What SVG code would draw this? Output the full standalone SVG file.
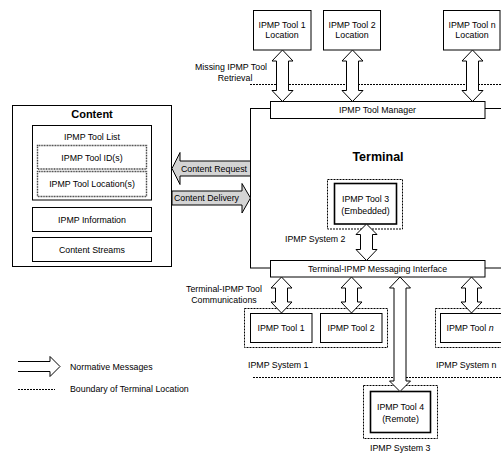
<svg xmlns="http://www.w3.org/2000/svg" width="501" height="453" viewBox="0 0 501 453">
<style>
text{font-family:"Liberation Sans",Arial,sans-serif;font-size:8.8px;fill:#000}
.c{text-anchor:middle}
.b{font-weight:bold}
.box{fill:#fff;stroke:#000;stroke-width:1}
.thick{fill:#fff;stroke:#000;stroke-width:1.6}
.dbox{fill:none;stroke:#000;stroke-width:1;stroke-dasharray:2 1}
.dot{fill:#fff;stroke:#444;stroke-width:1.4;stroke-dasharray:1 0.6}
.dl{fill:none;stroke:#000;stroke-width:1;stroke-dasharray:2 1}
.arr{fill:#fff;stroke:#000;stroke-width:1}
.garr{fill:#d4d4d4;stroke:#000;stroke-width:1}
</style>
<rect width="501" height="453" fill="#fff"/>
<line class="dl" x1="250" y1="84.5" x2="501" y2="84.5"/>
<line class="dl" x1="253" y1="377.5" x2="501" y2="377.5"/>
<g id="terminal">
<rect x="250.5" y="108.5" width="300" height="159.5" fill="none" stroke="#000"/>
<text class="c b" x="378" y="161" style="font-size:12.5px">Terminal</text>
</g>
<g id="content">
<rect class="box" x="12.5" y="105.5" width="159" height="161"/>
<text class="c b" x="92" y="118" style="font-size:11px">Content</text>
<rect class="box" x="32.5" y="125.5" width="119" height="74.5"/>
<text class="c" x="92" y="140">IPMP Tool List</text>
<rect class="dot" x="37.5" y="145.5" width="109" height="23.5"/>
<text class="c" x="92" y="160.5">IPMP Tool ID(s)</text>
<rect class="dot" x="37.5" y="171.5" width="109" height="25"/>
<text class="c" x="92" y="187">IPMP Tool Location(s)</text>
<rect class="box" x="32.5" y="207.5" width="119" height="24"/>
<text class="c" x="92" y="222.5">IPMP Information</text>
<rect class="box" x="32.5" y="237.5" width="119" height="24"/>
<text class="c" x="92" y="253">Content Streams</text>
</g>
<g id="loc1">
<rect class="box" x="253.5" y="10.5" width="57.5" height="39.5"/>
<text class="c" x="282" y="28">IPMP Tool 1</text>
<text class="c" x="282" y="38">Location</text>
</g>
<g id="loc2">
<rect class="box" x="323.5" y="10.5" width="57" height="39.5"/>
<text class="c" x="352" y="28">IPMP Tool 2</text>
<text class="c" x="352" y="38">Location</text>
</g>
<g id="locn">
<rect class="box" x="443.5" y="10.5" width="56.5" height="39.5"/>
<text class="c" x="472" y="28">IPMP Tool n</text>
<text class="c" x="472" y="38">Location</text>
</g>
<g id="manager">
<rect class="box" x="270.5" y="101.5" width="214.5" height="17"/>
<text class="c" x="377.5" y="113">IPMP Tool Manager</text>
</g>
<g id="tool3">
<rect class="dbox" x="327.5" y="179.5" width="75" height="49.5"/>
<rect class="thick" x="334.5" y="183.5" width="62" height="40.5"/>
<text class="c" x="365.5" y="201.5">IPMP Tool 3</text>
<text class="c" x="365.5" y="213.5">(Embedded)</text>
</g>
<g id="msgif">
<rect class="box" x="270.5" y="260.5" width="214.5" height="16.5"/>
<text class="c" x="377.5" y="271.5">Terminal-IPMP Messaging Interface</text>
</g>
<g id="system1">
<rect class="dbox" x="244.5" y="308.5" width="143" height="39"/>
<text x="248" y="368">IPMP System 1</text>
</g>
<g id="tool1">
<rect class="box" x="250.5" y="313.5" width="61.5" height="29"/>
<text class="c" x="281" y="331">IPMP Tool 1</text>
</g>
<g id="tool2">
<rect class="box" x="320.5" y="313.5" width="61.5" height="29"/>
<text class="c" x="351" y="331">IPMP Tool 2</text>
</g>
<g id="systemn">
<rect class="dbox" x="435.5" y="308.5" width="80" height="39"/>
<text x="436" y="368">IPMP System n</text>
</g>
<g id="tooln">
<rect class="box" x="440.5" y="313.5" width="70" height="29"/>
<text class="c" x="470" y="331">IPMP Tool <tspan font-style="italic">n</tspan></text>
</g>
<g id="tool4">
<rect class="dbox" x="363.5" y="385.5" width="74" height="53"/>
<rect class="thick" x="370.5" y="391.5" width="60" height="41"/>
<text class="c" x="400.5" y="410">IPMP Tool 4</text>
<text class="c" x="400.5" y="421.5">(Remote)</text>
<text x="370" y="451">IPMP System 3</text>
</g>
<g id="connectors">
<path class="arr" d="M282.5,50 L293,61 L288.5,61 L288.5,90.5 L293,90.5 L282.5,101.5 L272,90.5 L276.5,90.5 L276.5,61 L272,61 Z"/>
<path class="arr" d="M352.5,50 L363,61 L358.5,61 L358.5,90.5 L363,90.5 L352.5,101.5 L342,90.5 L346.5,90.5 L346.5,61 L342,61 Z"/>
<path class="arr" d="M472.5,50 L483,61 L478.5,61 L478.5,90.5 L483,90.5 L472.5,101.5 L462,90.5 L466.5,90.5 L466.5,61 L462,61 Z"/>
<path class="arr" d="M366.5,224 L377,234.5 L372.5,234.5 L372.5,249.5 L377,249.5 L366.5,260.5 L356,249.5 L360.5,249.5 L360.5,234.5 L356,234.5 Z"/>
<path class="arr" d="M281.5,277 L292,288 L287.5,288 L287.5,302 L292,302 L281.5,313 L271,302 L275.5,302 L275.5,288 L271,288 Z"/>
<path class="arr" d="M351.5,277 L362,288 L357.5,288 L357.5,302 L362,302 L351.5,313 L341,302 L345.5,302 L345.5,288 L341,288 Z"/>
<path class="arr" d="M471.5,277 L482,288 L477.5,288 L477.5,302 L482,302 L471.5,313 L461,302 L465.5,302 L465.5,288 L461,288 Z"/>
<path class="arr" d="M400,277 L410.5,288 L406,288 L406,381 L410.5,381 L400,391.5 L389.5,381 L394,381 L394,288 L389.5,288 Z"/>
<path class="garr" d="M172,168.5 L180,152.5 L180,161 L250.5,161 L250.5,176 L180,176 L180,184.5 Z"/>
<text class="c" x="214" y="171.5">Content Request</text>
<path class="garr" d="M250.5,198 L242,183.5 L242,191 L172,191 L172,205 L242,205 L242,213 Z"/>
<text class="c" x="206.5" y="201">Content Delivery</text>
</g>
<text class="c" x="231" y="69.5">Missing IPMP Tool</text>
<text class="c" x="235" y="80.5">Retrieval</text>
<text x="285" y="241.5">IPMP System 2</text>
<text class="c" x="224" y="291.5">Terminal-IPMP Tool</text>
<text class="c" x="224" y="302.5">Communications</text>
<g id="legend">
<path d="M18,361.5 L50,361.5 L50,356.5 L60,366.5 L50,376.5 L50,371.5 L18,371.5" fill="none" stroke="#000"/>
<text x="70" y="369.5">Normative Messages</text>
<line class="dl" x1="18" y1="389.5" x2="55" y2="389.5"/>
<text x="70" y="392">Boundary of Terminal Location</text>
</g>
</svg>
